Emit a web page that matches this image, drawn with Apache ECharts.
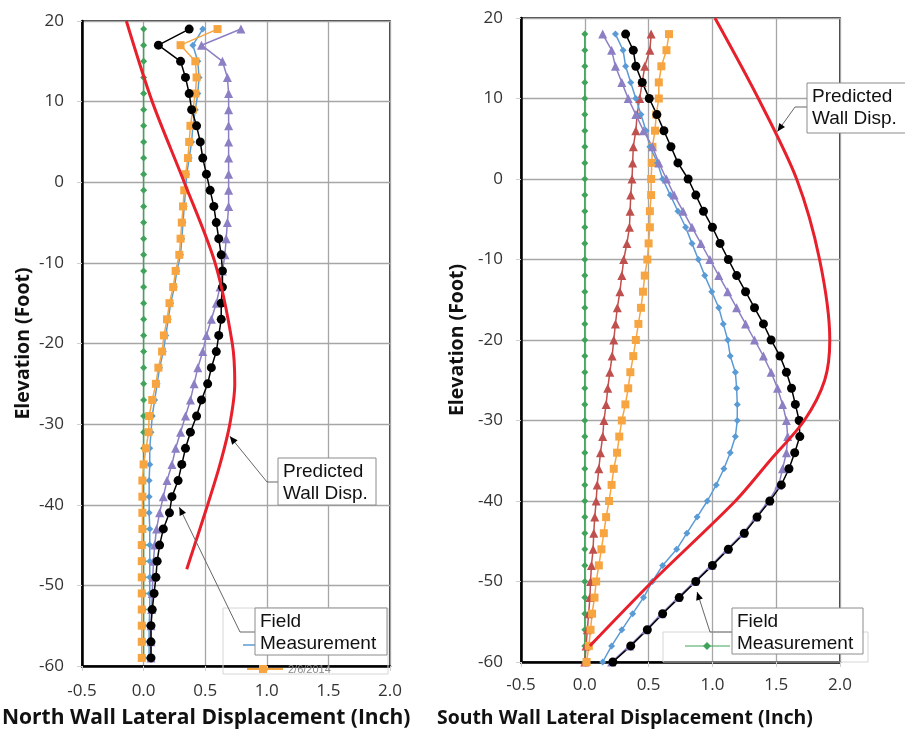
<!DOCTYPE html>
<html>
<head>
<meta charset="utf-8">
<script src="https://cdn.jsdelivr.net/npm/echarts@6/dist/echarts.min.js"></script>
<style>
  html, body { margin: 0; padding: 0; background: #fff; }
  #chart { width: 905px; height: 733px; }
</style>
</head>
<body>
<div id="chart"></div>
<script>
// ---- North wall (left panel), elevation in ft, displacement in inch
const northElev = [19, 17, 15, 13, 11, 9, 7, 5, 3, 1,
  -1, -3, -5, -7, -9, -11, -13, -15, -17, -19,
  -21, -23, -25, -27, -29, -31, -33, -35, -37, -39,
  -41, -43, -45, -47, -49, -51, -53, -55, -57, -59]
const northGreen = [0.0, 0.0, 0.0, 0.0, 0.0, 0.0, 0.0, 0.0, 0.0, 0.0,
  0.0, 0.0, 0.0, 0.0, 0.0, 0.0, 0.0, 0.0, 0.0, 0.0,
  0.0, 0.0, 0.0, 0.0, 0.0, 0.0, 0.0, 0.0, 0.0, 0.0,
  0.0, 0.0, 0.0, 0.0, 0.0, 0.0, 0.0, 0.0, 0.0, 0.0]
const northBlue = [0.48, 0.40, 0.44, 0.45, 0.44, 0.42, 0.40, 0.39, 0.37, 0.35,
  0.34, 0.33, 0.32, 0.31, 0.30, 0.27, 0.25, 0.22, 0.20, 0.18,
  0.16, 0.13, 0.11, 0.09, 0.07, 0.06, 0.05, 0.05, 0.045, 0.045,
  0.045, 0.05, 0.05, 0.05, 0.05, 0.05, 0.05, 0.045, 0.045, 0.045]
const northOrange = [0.60, 0.30, 0.42, 0.43, 0.42, 0.40, 0.38, 0.37, 0.36, 0.34,
  0.33, 0.32, 0.31, 0.30, 0.29, 0.26, 0.24, 0.21, 0.19, 0.165,
  0.15, 0.12, 0.10, 0.07, 0.045, 0.04, 0.02, 0.0, -0.01, -0.01,
  -0.01, -0.01, -0.015, -0.015, -0.015, -0.015, -0.015, -0.015, -0.015, -0.015]
const northPurple = [0.79, 0.47, 0.64, 0.68, 0.69, 0.69, 0.69, 0.69, 0.69, 0.69,
  0.69, 0.69, 0.68, 0.67, 0.66, 0.64, 0.62, 0.59, 0.55, 0.51,
  0.48, 0.44, 0.41, 0.38, 0.34, 0.30, 0.26, 0.23, 0.19, 0.16,
  0.13, 0.105, 0.09, 0.08, 0.075, 0.07, 0.065, 0.06, 0.06, 0.06]
const northBlack = [0.37, 0.12, 0.30, 0.34, 0.37, 0.39, 0.43, 0.46, 0.48, 0.51,
  0.54, 0.57, 0.59, 0.61, 0.63, 0.64, 0.64, 0.63, 0.63, 0.61,
  0.59, 0.55, 0.52, 0.47, 0.43, 0.38, 0.34, 0.31, 0.28, 0.23,
  0.21, 0.16, 0.13, 0.11, 0.10, 0.085, 0.07, 0.06, 0.06, 0.06]
const northPredX = [-0.14, 0.07, 0.33, 0.58, 0.72, 0.74, 0.70, 0.62, 0.52, 0.35]
const northPredElev = [20, 10, 0, -10, -20, -25, -30, -35, -40, -48]

// ---- South wall (right panel)
const southElev = [18, 16, 14, 12, 10, 8, 6, 4, 2, 0,
  -2, -4, -6, -8, -10, -12, -14, -16, -18, -20,
  -22, -24, -26, -28, -30, -32, -34, -36, -38, -40,
  -42, -44, -46, -48, -50, -52, -54, -56, -58, -60]
const southGreen = [0.0, 0.0, 0.0, 0.0, 0.0, 0.0, 0.0, 0.0, 0.0, 0.0,
  0.0, 0.0, 0.0, 0.0, 0.0, 0.0, 0.0, 0.0, 0.0, 0.0,
  0.0, 0.0, 0.0, 0.0, 0.0, 0.0, 0.0, 0.0, 0.0, 0.0,
  0.0, 0.0, 0.0, 0.0, 0.0, 0.0, 0.0, 0.0, 0.0, 0.0]
const southRed = [0.52, 0.51, 0.47, 0.45, 0.43, 0.41, 0.40, 0.38, 0.375, 0.37,
  0.36, 0.355, 0.35, 0.33, 0.305, 0.29, 0.275, 0.255, 0.24, 0.227,
  0.214, 0.196, 0.18, 0.167, 0.15, 0.14, 0.123, 0.11, 0.097, 0.089,
  0.078, 0.07, 0.065, 0.052, 0.045, 0.04, 0.03, 0.02, 0.01, 0.0]
const southOrange = [0.66, 0.64, 0.60, 0.58, 0.58, 0.56, 0.55, 0.53, 0.525, 0.52,
  0.52, 0.51, 0.51, 0.50, 0.49, 0.47, 0.456, 0.44, 0.42, 0.40,
  0.38, 0.357, 0.34, 0.318, 0.29, 0.27, 0.253, 0.227, 0.21, 0.19,
  0.167, 0.149, 0.13, 0.11, 0.089, 0.076, 0.057, 0.045, 0.032, 0.014]
const southBlue = [0.24, 0.30, 0.32, 0.36, 0.40, 0.44, 0.48, 0.51, 0.57, 0.61,
  0.67, 0.73, 0.79, 0.84, 0.89, 0.94, 0.995, 1.05, 1.085, 1.12,
  1.14, 1.18, 1.19, 1.195, 1.195, 1.18, 1.14, 1.09, 1.03, 0.96,
  0.88, 0.80, 0.72, 0.61, 0.53, 0.46, 0.375, 0.29, 0.21, 0.14]
const southPurple = [0.14, 0.21, 0.24, 0.29, 0.34, 0.40, 0.46, 0.53, 0.58, 0.64,
  0.70, 0.77, 0.84, 0.91, 0.98, 1.05, 1.12, 1.19, 1.26, 1.33,
  1.40, 1.46, 1.51, 1.55, 1.58, 1.59, 1.58, 1.55, 1.52, 1.44,
  1.34, 1.24, 1.115, 0.99, 0.86, 0.73, 0.60, 0.48, 0.35, 0.21]
const southBlack = [0.32, 0.38, 0.40, 0.45, 0.505, 0.565, 0.62, 0.675, 0.73, 0.81,
  0.87, 0.93, 1.0, 1.06, 1.125, 1.19, 1.26, 1.33, 1.40, 1.46,
  1.53, 1.58, 1.62, 1.65, 1.68, 1.685, 1.645, 1.60, 1.54, 1.45,
  1.35, 1.25, 1.125, 1.0, 0.87, 0.74, 0.61, 0.49, 0.36, 0.22]
const southPredX = [1.02, 1.36, 1.66, 1.84, 1.92, 1.88, 1.72, 1.45, 1.18, 0.53, 0.04]
const southPredElev = [20, 10, 0, -10, -20, -25, -30, -35, -40, -50, -58]

const xTicks = { min: -0.5, max: 2.0, step: 0.5 }
const yTicks = { min: -60, max: 20, step: 10 }

const GREEN = '#3fa35a'
const BLUE = '#5b9bd5'
const ORANGE = '#f7a541'
const PURPLE = '#8d7fc4'
const REDTRI = '#c0504d'
const PRED = '#e8202c'

function pairs(xs, elev) {
  return xs.map((x, i) => [x, elev[i]])
}

function measured(gi, data, color, symbol, size) {
  return {
    type: 'line',
    xAxisIndex: gi,
    yAxisIndex: gi,
    data: data,
    symbol: symbol,
    symbolSize: size,
    showSymbol: true,
    itemStyle: { color: color },
    lineStyle: { color: color, width: 1.5 },
    animation: false,
    z: 3
  }
}

function predicted(gi, data) {
  return {
    type: 'line',
    xAxisIndex: gi,
    yAxisIndex: gi,
    data: data,
    smooth: 0.3,
    symbol: 'none',
    lineStyle: { color: PRED, width: 3 },
    animation: false,
    z: 4
  }
}

function xAxis(gi, margin) {
  return {
    gridIndex: gi,
    type: 'value',
    min: xTicks.min,
    max: xTicks.max,
    interval: xTicks.step,
    axisLine: { onZero: false, lineStyle: { color: '#000', width: 2.5 } },
    axisTick: { show: true, length: 5, lineStyle: { color: '#d0d0d0' } },
    axisLabel: {
      margin: margin,
      color: '#333',
      fontFamily: 'Open Sans',
      fontSize: 17,
      formatter: v => v.toFixed(1)
    },
    splitLine: { lineStyle: { color: '#a6a6a6', width: 1.3 } }
  }
}

function yAxis(gi) {
  return {
    gridIndex: gi,
    type: 'value',
    min: yTicks.min,
    max: yTicks.max,
    interval: yTicks.step,
    name: 'Elevation (Foot)',
    nameLocation: 'middle',
    nameGap: gi === 0 ? 49 : 54,
    nameTextStyle: { fontFamily: 'Open Sans', fontWeight: 'bold', fontSize: 19.5, color: '#111' },
    axisLine: { onZero: false, lineStyle: { color: '#000', width: 2.5 } },
    axisTick: { show: true, length: 5, lineStyle: { color: '#d0d0d0' } },
    axisLabel: { margin: 18, color: '#333', fontFamily: 'Open Sans', fontSize: 17 },
    splitLine: { lineStyle: { color: '#a6a6a6', width: 1.3 } }
  }
}

const option = {
  backgroundColor: '#fff',
  animation: false,
  grid: [
    { left: 82, top: 21, width: 308, height: 645, show: true, borderColor: '#000', borderWidth: 1.5, backgroundColor: 'transparent' },
    { left: 521, top: 18, width: 319, height: 644, show: true, borderColor: '#000', borderWidth: 1.5, backgroundColor: 'transparent' }
  ],
  xAxis: [xAxis(0, 17), xAxis(1, 15)],
  yAxis: [yAxis(0), yAxis(1)],
  series: [
    measured(0, pairs(northGreen, northElev), GREEN, 'diamond', 7),
    measured(0, pairs(northBlue, northElev), BLUE, 'diamond', 7),
    measured(0, pairs(northOrange, northElev), ORANGE, 'rect', 8),
    measured(0, pairs(northPurple, northElev), PURPLE, 'triangle', 9),
    predicted(0, pairs(northPredX, northPredElev)),
    measured(0, pairs(northBlack, northElev), '#000', 'circle', 9),

    measured(1, pairs(southGreen, southElev), GREEN, 'diamond', 7),
    measured(1, pairs(southRed, southElev), REDTRI, 'triangle', 9),
    measured(1, pairs(southOrange, southElev), ORANGE, 'rect', 8),
    measured(1, pairs(southBlue, southElev), BLUE, 'diamond', 7),
    measured(1, pairs(southPurple, southElev), PURPLE, 'triangle', 9),
    measured(1, pairs(southBlack, southElev), '#000', 'circle', 9),
    predicted(1, pairs(southPredX, southPredElev))
  ]
}

const chart = echarts.init(document.getElementById('chart'), null, { renderer: 'canvas' })
chart.setOption(option)

// callouts: box placement in px, arrow tips in data units
const callouts = [
  { grid: 0, text: 'Predicted\nWall Disp.', box: [278, 458, 98, 47], elbow: [267, 482], tip: [0.70, -31.5] },
  { grid: 0, text: 'Field\nMeasurement', box: [255, 608, 132, 47], elbow: [240, 632], tip: [0.29, -40.3] },
  { grid: 1, text: 'Predicted\nWall Disp.', box: [807, 83, 100, 50], elbow: [795, 107], tip: [1.51, 5.9] },
  { grid: 1, text: 'Field\nMeasurement', box: [732, 608, 131, 46], elbow: [710, 632], tip: [0.88, -51.3] }
]

const gfx = []
// leftover legend frames from the source chart
gfx.push({ type: 'rect', z: 50, shape: { x: 223, y: 608, width: 165, height: 66 }, style: { fill: 'none', stroke: '#d6d6d6', lineWidth: 1 } })
gfx.push({ type: 'line', z: 50, shape: { x1: 243, y1: 645, x2: 258, y2: 645 }, style: { stroke: BLUE, lineWidth: 1.5 } })
gfx.push({ type: 'line', z: 50, shape: { x1: 247, y1: 669, x2: 283, y2: 669 }, style: { stroke: ORANGE, lineWidth: 2 } })
gfx.push({ type: 'rect', z: 50, shape: { x: 259, y: 665, width: 8, height: 8 }, style: { fill: ORANGE } })
gfx.push({ type: 'text', z: 50, x: 288, y: 670, style: { text: '2/6/2014', font: '11px "Liberation Sans"', fill: '#888', verticalAlign: 'middle' } })
gfx.push({ type: 'rect', z: 50, shape: { x: 663, y: 632, width: 205, height: 30 }, style: { fill: 'none', stroke: '#d6d6d6', lineWidth: 1 } })
gfx.push({ type: 'line', z: 50, shape: { x1: 685, y1: 646, x2: 730, y2: 646 }, style: { stroke: GREEN, lineWidth: 1 } })
gfx.push({ type: 'polygon', z: 50, shape: { points: [[707, 642], [711, 646], [707, 650], [703, 646]] }, style: { fill: GREEN } })

callouts.forEach(c => {
  const t = chart.convertToPixel({ gridIndex: c.grid }, c.tip)
  const [bx, by, bw, bh] = c.box
  const e = c.elbow
  gfx.push({ type: 'polyline', z: 60, shape: { points: [[bx, e[1]], e, t] }, style: { stroke: '#666', lineWidth: 1, fill: 'none' } })
  const dx = t[0] - e[0], dy = t[1] - e[1]
  const len = Math.sqrt(dx * dx + dy * dy)
  const ux = dx / len, uy = dy / len
  const L = 8, W = 3.5
  gfx.push({
    type: 'polygon', z: 61,
    shape: { points: [t, [t[0] - ux * L - uy * W, t[1] - uy * L + ux * W], [t[0] - ux * L + uy * W, t[1] - uy * L - ux * W]] },
    style: { fill: '#000' }
  })
  gfx.push({ type: 'rect', z: 62, shape: { x: bx, y: by, width: bw, height: bh }, style: { fill: '#fff', stroke: '#8c8c8c', lineWidth: 1 } })
  gfx.push({ type: 'text', z: 63, x: bx + 5, y: by + 3, style: { text: c.text, font: '19px "Liberation Sans"', fill: '#111', lineHeight: 22, verticalAlign: 'top' } })
})

// x axis titles (sit left of the plot centres in the source)
gfx.push({ type: 'text', z: 50, x: 2, y: 718, style: { text: 'North Wall Lateral Displacement (Inch)', font: 'bold 21px "Open Sans"', fill: '#111', verticalAlign: 'middle' } })
gfx.push({ type: 'text', z: 50, x: 437, y: 718, style: { text: 'South Wall Lateral Displacement (Inch)', font: 'bold 19.4px "Open Sans"', fill: '#111', verticalAlign: 'middle' } })

chart.setOption({ graphic: gfx })
</script>
</body>
</html>
